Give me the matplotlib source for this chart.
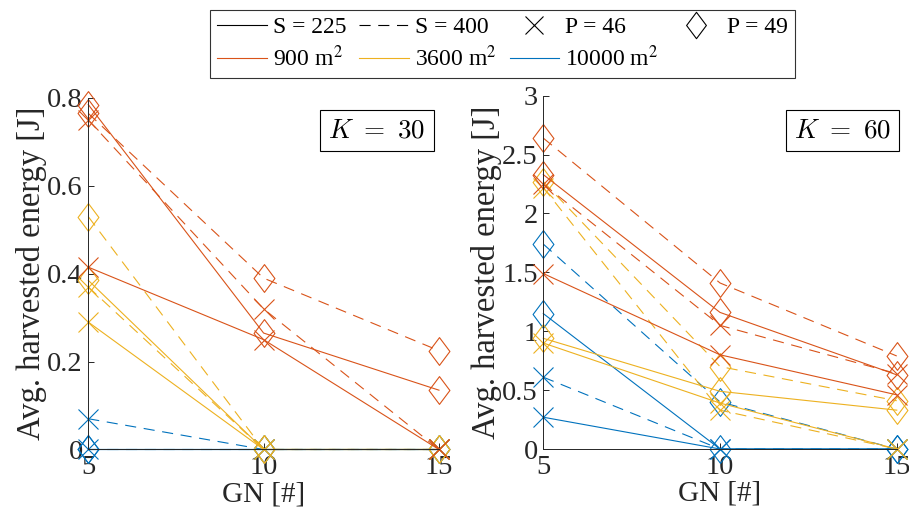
import matplotlib
matplotlib.use("Agg")
import matplotlib.pyplot as plt
from matplotlib.lines import Line2D
from matplotlib.path import Path
from matplotlib.ticker import FuncFormatter

plt.rcParams['font.family'] = ['Liberation Serif', 'DejaVu Serif']
plt.rcParams['mathtext.fontset'] = 'stix'
plt.rcParams['lines.scale_dashes'] = False

# ---- data ----
gn = [5, 10, 15]
areas = ['900 m$^2$', '3600 m$^2$', '10000 m$^2$']
s_labels = ['S = 225', 'S = 400']
p_labels = ['P = 46', 'P = 49']

# K = 30
k30_900_s225_p46 = [0.415, 0.25, 0.0]
k30_900_s225_p49 = [0.785, 0.265, 0.135]
k30_900_s400_p46 = [0.75, 0.32, 0.0]
k30_900_s400_p49 = [0.765, 0.39, 0.225]
k30_3600_s225_p46 = [0.29, 0.0, 0.0]
k30_3600_s225_p49 = [0.385, 0.0, 0.0]
k30_3600_s400_p46 = [0.37, 0.0, 0.0]
k30_3600_s400_p49 = [0.53, 0.0, 0.0]
k30_10000_s225_p46 = [0.0, 0.0, 0.0]
k30_10000_s225_p49 = [0.0, 0.0, 0.0]
k30_10000_s400_p46 = [0.07, 0.0, 0.0]
k30_10000_s400_p49 = [0.0, 0.0, 0.0]

# K = 60
k60_900_s225_p46 = [1.49, 0.80, 0.46]
k60_900_s225_p49 = [2.33, 1.16, 0.63]
k60_900_s400_p46 = [2.25, 1.05, 0.64]
k60_900_s400_p49 = [2.64, 1.41, 0.79]
k60_3600_s225_p46 = [0.90, 0.39, 0.0]
k60_3600_s225_p49 = [0.94, 0.49, 0.33]
k60_3600_s400_p46 = [2.22, 0.33, 0.0]
k60_3600_s400_p49 = [2.27, 0.70, 0.41]
k60_10000_s225_p46 = [0.27, 0.0, 0.0]
k60_10000_s225_p49 = [1.15, 0.0, 0.0]
k60_10000_s400_p46 = [0.61, 0.0, 0.0]
k60_10000_s400_p49 = [1.74, 0.40, 0.0]

k30 = [[[k30_900_s225_p46, k30_900_s225_p49], [k30_900_s400_p46, k30_900_s400_p49]],
       [[k30_3600_s225_p46, k30_3600_s225_p49], [k30_3600_s400_p46, k30_3600_s400_p49]],
       [[k30_10000_s225_p46, k30_10000_s225_p49], [k30_10000_s400_p46, k30_10000_s400_p49]]]
k60 = [[[k60_900_s225_p46, k60_900_s225_p49], [k60_900_s400_p46, k60_900_s400_p49]],
       [[k60_3600_s225_p46, k60_3600_s225_p49], [k60_3600_s400_p46, k60_3600_s400_p49]],
       [[k60_10000_s225_p46, k60_10000_s225_p49], [k60_10000_s400_p46, k60_10000_s400_p49]]]

# ---- style ----
colors = ['#D95319', '#EDB120', '#0072BD']
dash = (8.0, 5.5)
diamond = Path([(0, 1), (0.75, 0), (0, -1), (-0.75, 0), (0, 1)],
               [Path.MOVETO, Path.LINETO, Path.LINETO, Path.LINETO, Path.CLOSEPOLY])
markers = ['x', diamond]
msizes = [14.5, 20]
lw = 0.8
axcol = '#262626'
fs_tick = 20.5
fs_xlab = 21
fs_ylab = 23.5

fig = plt.figure(figsize=(9.09, 5.24), dpi=100)
ax1 = fig.add_axes([0.0971, 0.1422, 0.3858, 0.6708])
ax2 = fig.add_axes([0.5977, 0.1431, 0.3888, 0.6742])

def draw(ax, data):
    for ci in [2, 1, 0]:
        for si in range(2):
            for pi in range(2):
                ln, = ax.plot(gn, data[ci][si][pi], color=colors[ci], lw=lw,
                              marker=markers[pi], ms=msizes[pi], mfc='none',
                              mec=colors[ci], mew=lw, clip_on=False)
                if si == 1:
                    ln.set_dashes(dash)

draw(ax1, k30)
draw(ax2, k60)

fmt = FuncFormatter(lambda v, p: '%g' % v)
for ax, ylim, yt in [(ax1, (0, 0.8), [0, 0.2, 0.4, 0.6, 0.8]),
                     (ax2, (0, 3), [0, 0.5, 1, 1.5, 2, 2.5, 3])]:
    ax.set_xlim(5, 15)
    ax.set_ylim(*ylim)
    ax.set_xticks([5, 10, 15])
    ax.set_yticks(yt)
    ax.yaxis.set_major_formatter(fmt)
    for sp in ['top', 'right']:
        ax.spines[sp].set_visible(False)
    for sp in ['left', 'bottom']:
        ax.spines[sp].set_color(axcol)
        ax.spines[sp].set_linewidth(0.7)
    ax.tick_params(direction='in', length=4, width=0.7, colors=axcol,
                   labelsize=fs_tick, pad=4)
    ax.set_xlabel('GN [#]', fontsize=fs_xlab, color=axcol, labelpad=1)
    ax.set_ylabel('Avg. harvested energy [J]', fontsize=fs_ylab, color=axcol, labelpad=0)
    ax.patch.set_alpha(0)

ax1.text(0.823, 0.9075, r'$K\ =\ 30$', transform=ax1.transAxes, ha='center', va='center',
         fontsize=19.5, math_fontfamily='cm',
         bbox=dict(boxstyle='square,pad=0.3', fc='white', ec='black', lw=0.8))
ax2.text(0.847, 0.9015, r'$K\ =\ 60$', transform=ax2.transAxes, ha='center', va='center',
         fontsize=19.5, math_fontfamily='cm',
         bbox=dict(boxstyle='square,pad=0.3', fc='white', ec='black', lw=0.8))

h_s225 = Line2D([], [], color='k', lw=lw)
h_s400 = Line2D([], [], color='k', lw=lw, dashes=dash)
h_p46 = Line2D([], [], color='k', ls='none', marker='x', ms=13, mew=lw)
h_p49 = Line2D([], [], color='k', ls='none', marker=diamond, ms=19, mew=lw, mfc='none')
h_a = [Line2D([], [], color=c, lw=lw) for c in colors]

handles = [h_s225, h_a[0], h_s400, h_a[1], h_p46, h_a[2], h_p49]
labels = [s_labels[0], areas[0], s_labels[1], areas[1], p_labels[0], areas[2], p_labels[1]]
leg = fig.legend(handles, labels, ncol=4, loc='center', bbox_to_anchor=(0.553, 0.916),
                 fontsize=17, frameon=True, fancybox=False, edgecolor='black',
                 handlelength=2.1, handletextpad=0.25, columnspacing=0.55,
                 labelspacing=0.3, borderpad=0.3, borderaxespad=0)
leg.get_frame().set_linewidth(0.8)

fig.savefig('out.png', dpi=100)
